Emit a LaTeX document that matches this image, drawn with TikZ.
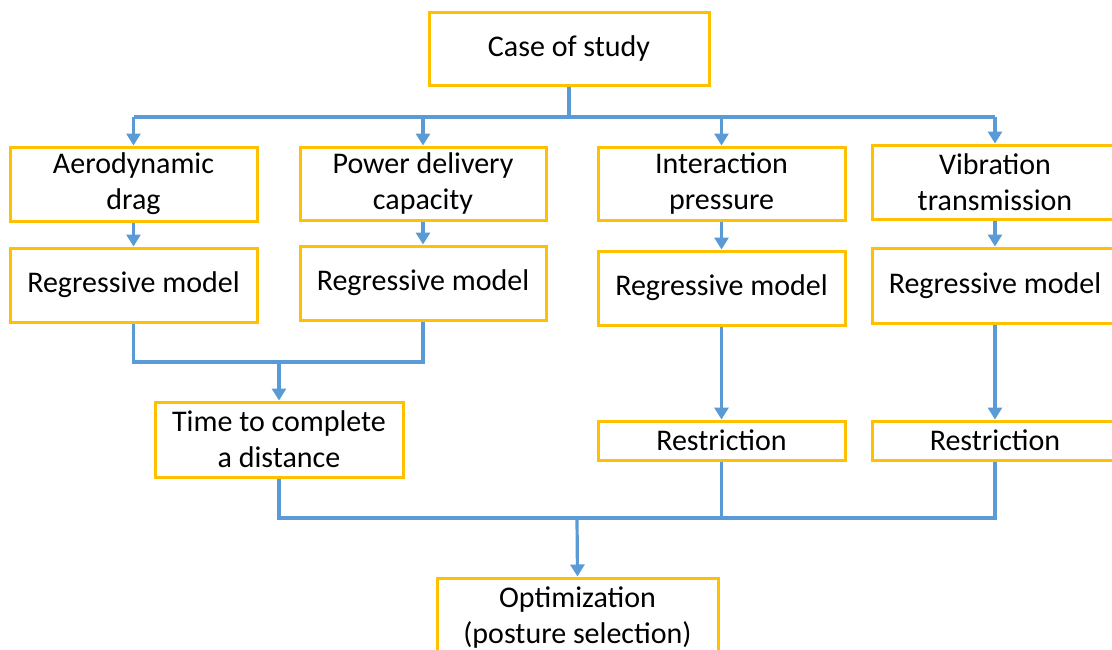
\documentclass[tikz,border=0pt]{standalone}
\usepackage{fontspec}
\setmainfont{Carlito}
\usetikzlibrary{arrows.meta}
\definecolor{boxyellow}{HTML}{FFC000}
\definecolor{lineblue}{HTML}{5B9BD5}
\tikzset{
  box/.style={draw=boxyellow, line width=3pt, fill=white, inner sep=0pt, align=center,
    font=\fontsize{30}{36}\selectfont},
  wire/.style={draw=lineblue, line width=3.2pt, line join=miter},
  arr/.style={wire, -{Triangle[width=14pt,length=12pt]}}
}
\begin{document}
\begin{tikzpicture}
\useasboundingbox (0,0) rectangle (1112pt,-649pt);
% boxes
\node[box, minimum width=280pt, minimum height=73pt] (case) at (569pt,-48.5pt) {Case of study};
\node[box, minimum width=247pt, minimum height=74pt] (aero) at (133.5pt,-184pt) {Aerodynamic\\drag};
\node[box, minimum width=246pt, minimum height=73pt] (power) at (423pt,-183.5pt) {Power delivery\\capacity};
\node[box, minimum width=247pt, minimum height=73pt] (inter) at (721.5pt,-183.5pt) {Interaction\\pressure};
\node[box, minimum width=246pt, minimum height=74pt] (vib) at (995pt,-182pt) {Vibration\\transmission};
\node[box, minimum width=247pt, minimum height=74pt] (reg1) at (133.5pt,-285pt) {Regressive model};
\node[box, minimum width=246pt, minimum height=74pt] (reg2) at (423pt,-283pt) {Regressive model};
\node[box, minimum width=247pt, minimum height=74pt] (reg3) at (721.5pt,-288pt) {Regressive model};
\node[box, minimum width=246pt, minimum height=75pt] (reg4) at (995pt,-285.5pt) {Regressive model};
\node[box, minimum width=248pt, minimum height=75pt] (time) at (279pt,-439.5pt) {Time to complete\\a distance};
\node[box, minimum width=247pt, minimum height=39pt] (res1) at (721.5pt,-440.5pt) {Restriction};
\node[box, minimum width=246pt, minimum height=39pt] (res2) at (995pt,-440.5pt) {Restriction};
\node[box, minimum width=281pt, minimum height=80pt] (opt) at (577.5pt,-618pt) {Optimization\\(posture selection)};
% bus coordinates
\coordinate (bustop) at (569pt,-117pt);
\coordinate (busmid) at (278pt,-362pt);
\coordinate (busbot) at (577pt,-518pt);
% top distribution
\draw[wire] (case.south) -- (bustop);
\draw[wire] (bustop -| aero.north) -- (bustop -| vib.north);
\draw[arr] (bustop -| aero.north) -- (aero.north);
\draw[arr] (bustop -| power.north) -- (power.north);
\draw[arr] (bustop -| inter.north) -- (inter.north);
\draw[arr] (bustop -| vib.north) -- (vib.north);
% to regressive models
\draw[arr] (aero.south) -- (reg1.north);
\draw[arr] (power.south) -- (reg2.north);
\draw[arr] (inter.south) -- (reg3.north);
\draw[arr] (vib.south) -- (reg4.north);
% merge to time
\draw[wire] (reg1.south) -- (reg1.south |- busmid) -- (reg2.south |- busmid) -- (reg2.south);
\draw[arr] (time.north |- busmid) -- (time.north);
% restrictions
\draw[arr] (reg3.south) -- (res1.north);
\draw[arr] (reg4.south) -- (res2.north);
% bottom merge
\draw[wire] (time.south) -- (time.south |- busbot) -- (res2.south |- busbot) -- (res2.south);
\draw[wire] (res1.south) -- (res1.south |- busbot);
\draw[arr] (busbot) -- (opt.north);
\end{tikzpicture}
\end{document}
